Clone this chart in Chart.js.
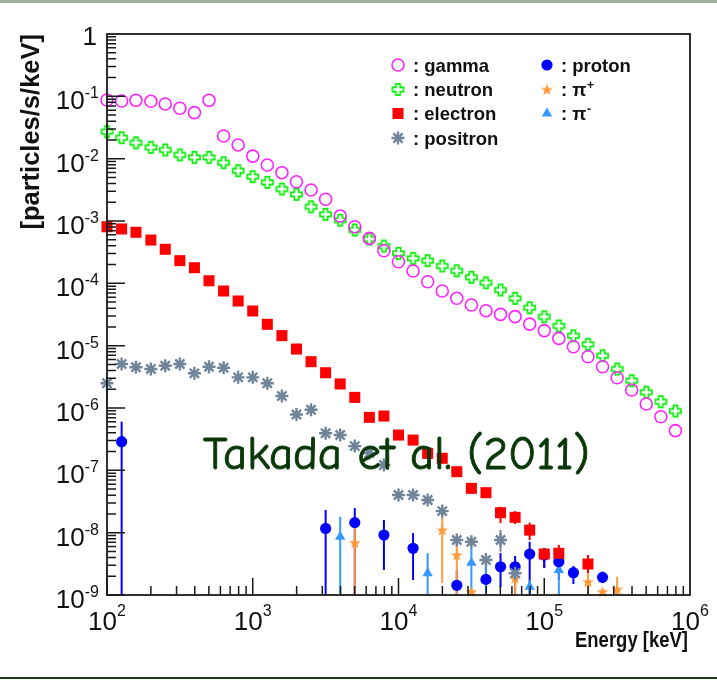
<!DOCTYPE html>
<html>
<head>
<meta charset="utf-8">
<script src="https://cdn.jsdelivr.net/npm/chart.js@4.4.1/dist/chart.umd.min.js"></script>
<style>
  body { margin: 0; background: #fff; }
  #wrap { position: relative; width: 717px; height: 680px; }
  #topbar { position: absolute; left: 0; top: 0; width: 717px; height: 3px; background: #9fb19f; }
  #botline { position: absolute; left: 0; top: 677px; width: 717px; height: 2px; background: #1c3a1c; }
</style>
</head>
<body>
<div id="wrap">
  <div id="topbar"></div>
  <canvas id="fluxChart" width="717" height="680"></canvas>
  <div id="botline"></div>
</div>
<script>
// bin energies [keV], 10 bins per decade
const energy = [100,126,158,200,251,316,398,501,631,794,
  1000,1259,1585,1995,2512,3162,3981,5012,6310,7943,
  10000,12589,15849,19953,25119,31623,39811,50119,63096,79433,
  100000,125893,158489,199526,251189,316228,398107,501187,630957,794328];

const gamma = [8.73e-2,8.41e-2,8.63e-2,8.32e-2,7.53e-2,6.43e-2,5.47e-2,8.63e-2,2.31e-2,1.66e-2,
  1.10e-2,7.91e-3,5.96e-3,4.27e-3,3.14e-3,2.23e-3,1.20e-3,8.09e-4,5.27e-4,3.33e-4,
  2.22e-4,1.58e-4,1.06e-4,7.53e-5,5.75e-5,4.49e-5,3.64e-5,3.18e-5,2.92e-5,2.22e-5,
  1.74e-5,1.31e-5,9.62e-6,6.65e-6,4.59e-6,3.06e-6,1.94e-6,1.16e-6,7.24e-7,4.33e-7];

const neutron = [2.71e-2,2.17e-2,1.80e-2,1.52e-2,1.38e-2,1.15e-2,1.05e-2,1.05e-2,8.61e-3,6.41e-3,
  5.14e-3,4.17e-3,3.26e-3,2.68e-3,1.69e-3,1.28e-3,1.03e-3,7.16e-4,5.14e-4,3.97e-4,
  3.03e-4,2.52e-4,2.31e-4,1.90e-4,1.59e-4,1.25e-4,1.02e-4,7.82e-5,5.75e-5,4.06e-5,
  2.91e-5,2.07e-5,1.44e-5,1.05e-5,6.90e-6,4.22e-6,2.74e-6,1.79e-6,1.26e-6,8.95e-7];

const electron = [8.09e-4,7.45e-4,6.59e-4,4.95e-4,3.52e-4,2.31e-4,1.78e-4,1.10e-4,7.53e-5,5.21e-5,
  3.60e-5,2.20e-5,1.45e-5,8.83e-6,5.53e-6,3.68e-6,2.43e-6,1.48e-6,7.08e-7,7.43e-7,
  3.68e-7,3.06e-7,1.87e-7,1.56e-7,9.51e-8,5.14e-8,4.38e-8,2.09e-8,1.76e-8,1.10e-8,
  4.54e-9,4.66e-9,null,3.14e-9];
const electronErrE = [50119,63096,79433,100000,125893,199526];
const electronErrHi = [2.61e-8,2.22e-8,1.45e-8,5.68e-9,6.34e-9,4.38e-9];
const electronErrLo = [1.43e-8,1.38e-8,7.62e-9,2.71e-9,3.03e-9,2.25e-9];

const positron = [2.49e-6,5.08e-6,4.50e-6,4.22e-6,4.76e-6,5.08e-6,3.60e-6,4.59e-6,4.43e-6,3.10e-6,
  3.10e-6,2.49e-6,1.56e-6,7.85e-7,9.38e-7,3.93e-7,3.69e-7,2.45e-7,1.89e-7,1.22e-7,
  4.02e-8,4.02e-8,3.34e-8,2.22e-8,7.62e-9,7.16e-9,3.64e-9,7.62e-9,2.23e-9];
const positronErrE = [100,39811,50119];
const positronErrHi = [3.18e-6,4.71e-9,1.10e-8];
const positronErrLo = [1.12e-6,2.33e-9,4.94e-9];

const protonE = [126,3162,5012,7943,12589,25119,39811,50119,63096,79433,100000,125893,158489,251189];
const proton = [2.88e-7,1.17e-8,1.45e-8,9.16e-9,5.61e-9,1.43e-9,1.78e-9,2.84e-9,2.84e-9,4.54e-9,4.38e-9,3.42e-9,2.28e-9,1.92e-9];
const protonHi = [6.03e-7,2.31e-8,2.48e-8,1.60e-8,9.86e-9,2.51e-9,2.82e-9,4.71e-9,4.22e-9,7.16e-9,5.68e-9,4.71e-9,2.92e-9,2.37e-9];
const protonLo = [1e-10,1e-10,1e-10,2.52e-9,1.74e-9,1e-10,1.12e-9,1.34e-9,1e-10,1e-10,2.71e-9,1.74e-9,1.50e-9,1.55e-9];

const pipE = [5012,19953,25119,31623,63096,199526,251189,316228];
const pip = [6.90e-9,1.10e-8,4.38e-9,1.13e-9,1.85e-9,1.63e-9,1.13e-9,1.23e-9];
const pipHi = [1.43e-8,2.17e-8,6.82e-9,null,2.71e-9,2.23e-9,null,1.96e-9];
const pipLo = [1e-10,1.56e-9,1e-10,null,1e-10,1e-10,null,1e-10];

const pimE = [3981,15849,31623,39811,79433,125893];
const pim = [8.61e-9,2.23e-9,3.30e-9,1.78e-9,1.36e-9,2.52e-9];
const pimHi = [1.80e-8,4.71e-9,5.94e-9,2.82e-9,1.74e-9,4.38e-9];
const pimLo = [1e-10,1e-10,1e-10,1e-10,1e-10,1e-10];

const xDecades = [2,3,4,5,6];
const yDecades = [-9,-8,-7,-6,-5,-4,-3,-2,-1,0];

// marker images for the root style open cross and filled star
function openCross(color){
  const c = document.createElement('canvas');
  c.width = 15; c.height = 15;
  const g = c.getContext('2d');
  const s = 5.6, a = 2.1, m = 7.5;
  g.translate(m, m);
  g.beginPath();
  g.moveTo(-a,-s); g.lineTo(a,-s); g.lineTo(a,-a); g.lineTo(s,-a); g.lineTo(s,a); g.lineTo(a,a);
  g.lineTo(a,s); g.lineTo(-a,s); g.lineTo(-a,a); g.lineTo(-s,a); g.lineTo(-s,-a); g.lineTo(-a,-a);
  g.closePath();
  g.strokeStyle = color; g.lineWidth = 1.6; g.stroke();
  return c;
}
function fiveStar(color){
  const c = document.createElement('canvas');
  c.width = 14; c.height = 14;
  const g = c.getContext('2d');
  g.translate(7, 7.5);
  g.beginPath();
  for (let i = 0; i < 10; i++){
    const r = i % 2 ? 2.6 : 6.2;
    const ang = -Math.PI/2 + i*Math.PI/5;
    g.lineTo(r*Math.cos(ang), r*Math.sin(ang));
  }
  g.closePath();
  g.fillStyle = color; g.fill();
  return c;
}

function pts(xs, ys){
  return ys.map((y, i) => ({x: xs[i], y: y}));
}

const datasets = [
  {label:'gamma', data: pts(energy, gamma), pointStyle:'circle', pointRadius:6, borderWidth:1.6,
   borderColor:'#ff22ff', backgroundColor:'rgba(0,0,0,0)', legend:[0,0], text:': gamma'},
  {label:'neutron', data: pts(energy, neutron), pointStyle: openCross('#00ee00'), pointRadius:7, borderWidth:0,
   borderColor:'#00ee00', backgroundColor:'#00ee00', legend:[0,1], text:': neutron'},
  {label:'electron', data: pts(energy, electron), pointStyle:'rect', pointRadius:7.8, borderWidth:0,
   borderColor:'#ff0000', backgroundColor:'#ff0000', legend:[0,2], text:': electron',
   err:{e:electronErrE, hi:electronErrHi, lo:electronErrLo}},
  {label:'positron', data: pts(energy, positron), pointStyle:'star', pointRadius:6.5, borderWidth:2.4,
   borderColor:'#70859a', backgroundColor:'#70859a', legend:[0,3], text:': positron',
   err:{e:positronErrE, hi:positronErrHi, lo:positronErrLo}},
  {label:'proton', data: pts(protonE, proton), pointStyle:'circle', pointRadius:5.6, borderWidth:0,
   borderColor:'#0000ff', backgroundColor:'#0000ff', legend:[1,0], text:': proton',
   err:{e:protonE, hi:protonHi, lo:protonLo}},
  {label:'pi+', data: pts(pipE, pip), pointStyle: fiveStar('#ff9a3c'), pointRadius:6, borderWidth:0,
   borderColor:'#ff9a3c', backgroundColor:'#ff9a3c', legend:[1,1], text:': \u03c0', sup:'+',
   err:{e:pipE, hi:pipHi, lo:pipLo}},
  {label:'pi-', data: pts(pimE, pim), pointStyle:'triangle', pointRadius:6, borderWidth:0,
   borderColor:'#3399ff', backgroundColor:'#3399ff', legend:[1,2], text:': \u03c0', sup:'-',
   err:{e:pimE, hi:pimHi, lo:pimLo}}
];
datasets.forEach(d => { d.clip = false; d.showLine = false; d.pointHoverRadius = d.pointRadius; });

const rootStyle = {
  id: 'rootStyle',
  beforeDatasetsDraw(chart){
    const ctx = chart.ctx, xs = chart.scales.x, ys = chart.scales.y, a = chart.chartArea;
    ctx.save();
    chart.data.datasets.forEach(ds => {
      if (!ds.err) return;
      ctx.strokeStyle = ds.borderColor;
      ctx.lineWidth = 2;
      ds.err.e.forEach((e, k) => {
        if (ds.err.hi[k] == null) return;
        const px = xs.getPixelForValue(e);
        const top = Math.max(a.top, ys.getPixelForValue(ds.err.hi[k]));
        const bot = Math.min(a.bottom, ys.getPixelForValue(ds.err.lo[k]));
        ctx.beginPath(); ctx.moveTo(px, top); ctx.lineTo(px, bot); ctx.stroke();
      });
    });
    ctx.restore();
  },
  afterDatasetsDraw(chart){
    const ctx = chart.ctx, xs = chart.scales.x, ys = chart.scales.y, a = chart.chartArea;
    ctx.save();
    ctx.strokeStyle = '#1a1a1a';
    ctx.lineWidth = 1.8;
    ctx.strokeRect(a.left, a.top, a.right - a.left, a.bottom - a.top);
    ctx.lineWidth = 1.5;
    ctx.beginPath();
    for (let d = 2; d < 6; d++){
      for (let m = 1; m <= 9; m++){
        const px = xs.getPixelForValue(m*Math.pow(10, d));
        const len = m === 1 ? 17 : 9;
        ctx.moveTo(px, a.bottom); ctx.lineTo(px, a.bottom - len);
      }
    }
    for (let d = -9; d < 0; d++){
      for (let m = 1; m <= 9; m++){
        const py = ys.getPixelForValue(m*Math.pow(10, d));
        const len = m === 1 ? 18 : 9;
        ctx.moveTo(a.left, py); ctx.lineTo(a.left + len, py);
      }
    }
    ctx.stroke();
    ctx.restore();
  },
  afterDraw(chart){
    const ctx = chart.ctx, xs = chart.scales.x, ys = chart.scales.y, a = chart.chartArea;
    ctx.save();
    ctx.fillStyle = '#111';
    ctx.textBaseline = 'alphabetic';
    const big = '26px "Liberation Sans", Arial, sans-serif';
    const small = '16px "Liberation Sans", Arial, sans-serif';
    // x tick labels
    xDecades.forEach(d => {
      const px = xs.getPixelForValue(Math.pow(10, d));
      ctx.font = big; const w1 = ctx.measureText('10').width;
      ctx.font = small; const w2 = ctx.measureText(String(d)).width;
      const x0 = px - (w1 + w2)/2;
      ctx.textAlign = 'left';
      ctx.font = big; ctx.fillText('10', x0, a.bottom + 35);
      ctx.font = small; ctx.fillText(String(d), x0 + w1, a.bottom + 21);
    });
    // y tick labels
    yDecades.forEach(d => {
      const py = ys.getPixelForValue(Math.pow(10, d));
      const right = 99;
      ctx.textAlign = 'right';
      if (d === 0){
        ctx.font = big; ctx.fillText('1', right - 2, py + 11);
        return;
      }
      ctx.font = small; ctx.fillText(String(d), right, py + 2);
      const w2 = ctx.measureText(String(d)).width;
      ctx.font = big; ctx.fillText('10', right - w2, py + 13);
    });
    // axis titles
    ctx.font = 'bold 22.5px "Liberation Sans", Arial, sans-serif';
    ctx.textAlign = 'right';
    ctx.fillText('Energy [keV]', a.right - 2, a.bottom + 52, 113);
    ctx.save();
    ctx.translate(39, a.top);
    ctx.rotate(-Math.PI/2);
    ctx.font = 'bold 25.5px "Liberation Sans", Arial, sans-serif';
    ctx.textAlign = 'right';
    ctx.fillText('[particles/s/keV]', 0, 0, 198);
    ctx.restore();

    // legend
    const colX = [[398, 413], [547, 561]];
    const rowY = [65, 89.5, 113.5, 138];
    const helpers = Chart.helpers;
    chart.data.datasets.forEach(ds => {
      const [c, r] = ds.legend;
      const mx = colX[c][0], tx = colX[c][1], y = rowY[r];
      ctx.save();
      ctx.strokeStyle = ds.borderColor;
      ctx.fillStyle = ds.backgroundColor;
      ctx.lineWidth = ds.borderWidth;
      if (helpers && helpers.drawPoint){
        helpers.drawPoint(ctx, {pointStyle: ds.pointStyle, radius: ds.pointRadius, rotation: 0, borderWidth: ds.borderWidth}, mx, y);
      }
      ctx.restore();
      ctx.fillStyle = '#111';
      ctx.textAlign = 'left';
      ctx.font = 'bold 18.5px "Liberation Sans", Arial, sans-serif';
      ctx.fillText(ds.text, tx, y + 6.5);
      if (ds.sup){
        const w = ctx.measureText(ds.text).width;
        ctx.font = 'bold 12px "Liberation Sans", Arial, sans-serif';
        ctx.fillText(ds.sup, tx + w + 0.5, y - 1);
      }
    });

    // reference note, fitted to the width it has in the original
    ctx.fillStyle = '#083808';
    ctx.strokeStyle = '#083808';
    ctx.lineWidth = 0.9;
    ctx.textAlign = 'left';
    const note = 'Takada et al. (2011)';
    const fam = 'px "Comic Sans MS", "Comic Neue", "DejaVu Sans", sans-serif';
    ctx.font = '40' + fam;
    const fs = Math.min(52, 40 * 387 / ctx.measureText(note).width);
    ctx.font = fs.toFixed(1) + fam;
    ctx.fillText(note, 203, 469);
    ctx.strokeText(note, 203, 469);
    ctx.restore();
  }
};

const ctx = document.getElementById('fluxChart').getContext('2d');
const fluxChart = new Chart(ctx, {
  type: 'scatter',
  data: { datasets: datasets },
  options: {
    responsive: false,
    animation: false,
    devicePixelRatio: 1,
    events: [],
    layout: { padding: { left: 107, right: 27, top: 34, bottom: 85 } },
    plugins: { legend: { display: false }, tooltip: { enabled: false } },
    scales: {
      x: { type: 'logarithmic', min: 100, max: 1e6, display: false },
      y: { type: 'logarithmic', min: 1e-9, max: 1, display: false }
    }
  },
  plugins: [rootStyle]
});
</script>
</body>
</html>
